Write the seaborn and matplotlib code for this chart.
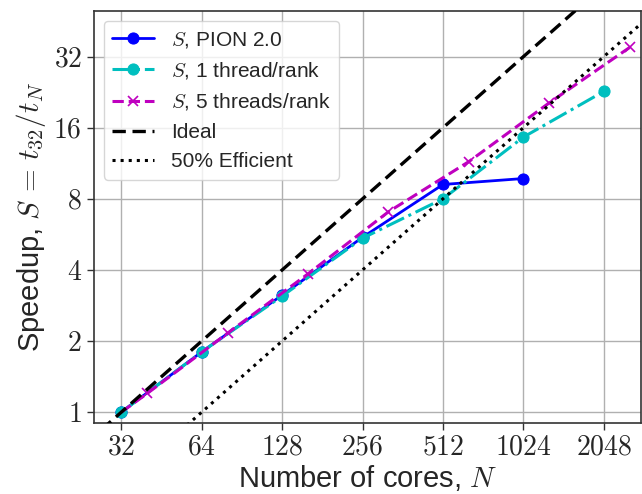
import numpy as np
import pandas as pd
import seaborn as sns
import matplotlib.pyplot as plt
from matplotlib.ticker import FixedLocator, FixedFormatter, NullLocator

# speedup data
cores_pion = [32, 64, 128, 256, 512, 1024]
speedup_pion = [1.0, 1.80, 3.13, 5.5, 9.2, 9.75]

cores_1t = [32, 64, 128, 256, 512, 1024, 2048]
speedup_1t = [1.0, 1.80, 3.10, 5.45, 8.0, 14.6, 22.8]

cores_5t = [32, 40, 80, 160, 320, 640, 1280, 2560]
speedup_5t = [1.0, 1.20, 2.16, 3.85, 7.05, 11.5, 20.4, 35.0]

ref_cores = [16, 4096]
ideal = [c / 32 for c in ref_cores]
half = [c / 64 for c in ref_cores]

xticks = [32, 64, 128, 256, 512, 1024, 2048]
yticks = [1, 2, 4, 8, 16, 32]

sns.set_theme(style="ticks", color_codes=False)
plt.rcParams['font.family'] = ['Liberation Sans', 'DejaVu Sans']
plt.rcParams['mathtext.fontset'] = 'cm'

blue, cyan, mag = '#0000ff', '#00bfbf', '#bf00bf'

fig = plt.figure(figsize=(6.42, 4.94), dpi=100)
ax = fig.add_axes([0.146, 0.144, 0.852, 0.834])

sns.lineplot(x=cores_5t, y=speedup_5t, ax=ax, color=mag, marker='x', markersize=7,
             markeredgecolor=mag, markeredgewidth=1.2, linewidth=2.2, linestyle='--',
             markevery=list(range(1, len(cores_5t))), label=r'$S$, 5 threads/rank', zorder=3)
sns.lineplot(x=cores_pion, y=speedup_pion, ax=ax, color=blue, marker='o', markersize=8,
             markeredgecolor=blue, linewidth=2, linestyle='-', label=r'$S$, PION 2.0', zorder=2)
sns.lineplot(x=cores_1t, y=speedup_1t, ax=ax, color=cyan, marker='o', markersize=8,
             markeredgecolor=cyan, linewidth=2.2, linestyle='-.', label=r'$S$, 1 thread/rank', zorder=2.5)
ax.plot(ref_cores, ideal, color='k', linestyle='--', dashes=(4, 2), linewidth=2.4, label='Ideal', zorder=4)
ax.plot(ref_cores, half, color='k', linestyle=':', linewidth=2.2, label='50% Efficient', zorder=4)

ax.set_xscale('log', base=2)
ax.set_yscale('log', base=2)
ax.set_xlim(25.2, 2816)
ax.set_ylim(0.9, 50)
ax.xaxis.set_major_locator(FixedLocator(xticks))
ax.xaxis.set_major_formatter(FixedFormatter([f'${t}$' for t in xticks]))
ax.yaxis.set_major_locator(FixedLocator(yticks))
ax.yaxis.set_major_formatter(FixedFormatter([f'${t}$' for t in yticks]))
ax.xaxis.set_minor_locator(NullLocator())
ax.yaxis.set_minor_locator(NullLocator())
ax.tick_params(labelsize=20, length=5, width=1, direction='out', color='#333333')
ax.grid(True, color='#b0b0b0', linewidth=1)
for s in ax.spines.values():
    s.set_visible(True)
    s.set_color('#333333')
    s.set_linewidth(1.2)

ax.set_xlabel(r'Number of cores, $N$', fontsize=21, labelpad=2)
ax.set_ylabel(r'Speedup, $S\,=\,t_{32}/t_N$', fontsize=21, labelpad=4)

# legend in the reference order
h, l = ax.get_legend_handles_labels()
order = [1, 2, 0, 3, 4]
ax.legend([h[i] for i in order], [l[i] for i in order], loc='upper left', fontsize=15, framealpha=0.8)

plt.savefig("out.png", dpi=100)
